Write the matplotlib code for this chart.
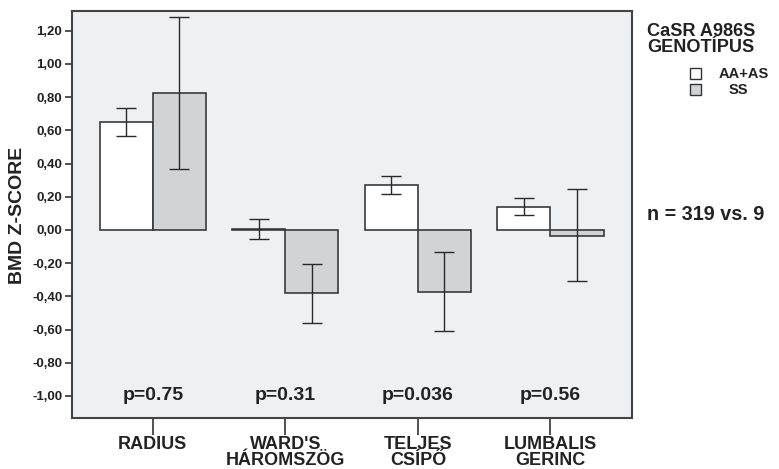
import matplotlib
matplotlib.use("Agg")
import matplotlib.pyplot as plt
import numpy as np
from matplotlib.patches import Rectangle

plt.rcParams['font.family'] = ['Liberation Sans', 'DejaVu Sans']

sites = ["RADIUS", "WARD'S\nHÁROMSZÖG", "TELJES\nCSÍPŐ", "LUMBALIS\nGERINC"]
pvals = ["p=0.75", "p=0.31", "p=0.036", "p=0.56"]

aa_mean = [0.65, 0.005, 0.27, 0.14]
aa_low = [0.565, -0.055, 0.215, 0.09]
aa_high = [0.735, 0.065, 0.325, 0.195]

ss_mean = [0.825, -0.38, -0.375, -0.035]
ss_low = [0.365, -0.56, -0.61, -0.305]
ss_high = [1.28, -0.205, -0.135, 0.245]

yticks = [1.2, 1.0, 0.8, 0.6, 0.4, 0.2, 0.0, -0.2, -0.4, -0.6, -0.8, -1.0]

fig = plt.figure(figsize=(7.79, 4.69), dpi=100)
ax = fig.add_axes([72 / 779, 1 - 418 / 469, 560 / 779, 407 / 469])
ax.set_facecolor('#eff0f2')

x = np.arange(len(sites))
w = 0.4
edge = '#3a3a3a'
txt = '#222222'
ax.bar(x - w / 2, aa_mean, w, color='white', edgecolor=edge, linewidth=1.2, zorder=2)
ax.bar(x + w / 2, ss_mean, w, color='#d2d3d5', edgecolor=edge, linewidth=1.2, zorder=2)

for xi, m, lo, hi in zip(x - w / 2, aa_mean, aa_low, aa_high):
    ax.errorbar(xi, m, yerr=[[m - lo], [hi - m]], fmt='none', ecolor='#2a2a2a',
                elinewidth=1.0, capsize=7, capthick=1.0, zorder=3)
for xi, m, lo, hi in zip(x + w / 2, ss_mean, ss_low, ss_high):
    ax.errorbar(xi, m, yerr=[[m - lo], [hi - m]], fmt='none', ecolor='#2a2a2a',
                elinewidth=1.0, capsize=7, capthick=1.0, zorder=3)

for xi, p in zip(x, pvals):
    ax.text(xi, -1.0, p, ha='center', va='center', fontsize=14, fontweight='bold',
            color=txt)

ax.set_xlim(-0.61, 3.615)
ax.set_ylim(-1.133, 1.319)
ax.set_yticks(yticks)
ax.set_yticklabels([f"{v:.2f}".replace('.', ',') for v in yticks],
                   fontsize=9.5, fontweight='bold', color=txt)
ax.set_xticks(x)
ax.set_xticklabels(sites, fontsize=13, fontweight='bold', color=txt,
                   linespacing=0.95)
ax.tick_params(axis='y', length=5, width=1.2, color='#333333', pad=2)
ax.tick_params(axis='x', length=12, width=1.2, color='#333333', pad=1)
for s in ax.spines.values():
    s.set_color('#444444')
    s.set_linewidth(1.5)

fig.text(18 / 779, 1 - 215 / 469, "BMD Z-SCORE", fontsize=14, fontweight='bold',
         color=txt, rotation=90, ha='center', va='center')

# legend block on the right
fig.text(647 / 779, 1 - 31 / 469, "CaSR A986S", fontsize=13.1, fontweight='bold',
         color=txt, va='center', ha='left')
fig.text(647 / 779, 1 - 48 / 469, "GENOTÍPUS", fontsize=13.1, fontweight='bold',
         color=txt, va='center', ha='left')
for yy, fc, lab, lx in [(74, 'white', "AA+AS", 719), (90, '#d2d3d5', "SS", 729)]:
    fig.patches.append(Rectangle((690 / 779, 1 - (yy + 5.5) / 469), 11 / 779, 11 / 469,
                                 transform=fig.transFigure, facecolor=fc,
                                 edgecolor='#333333', linewidth=1.0))
    fig.text(lx / 779, 1 - yy / 469, lab, fontsize=10.5, fontweight='bold',
             color=txt, va='center', ha='left')

fig.text(647 / 779, 1 - 214 / 469, "n = 319 vs. 9", fontsize=14.2, fontweight='bold',
         color=txt, va='center', ha='left')

fig.savefig("out.png", dpi=100, facecolor='white')
